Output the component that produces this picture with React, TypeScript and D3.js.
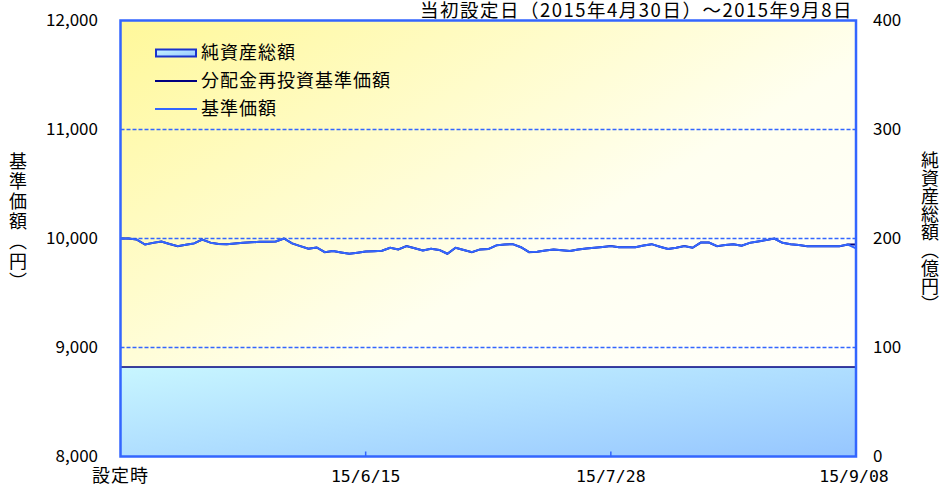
import React, { useEffect, useRef } from 'react';
import * as d3 from 'd3';

// 基準価額 (円), one value per business day from 設定時 to 15/9/08
const navValues = [
  10000, 10000, 9990, 9945, 9960, 9972, 9950, 9930, 9942, 9955,
  9990, 9962, 9950, 9948, 9955, 9960, 9965, 9970, 9970, 9972,
  10000, 9955, 9930, 9906, 9918, 9875, 9885, 9872, 9860, 9870,
  9880, 9884, 9888, 9915, 9900, 9930, 9910, 9890, 9905, 9895,
  9860, 9915, 9895, 9875, 9900, 9903, 9937, 9945, 9948, 9920,
  9875, 9878, 9890, 9900, 9892, 9885, 9900, 9908, 9915, 9922,
  9930, 9920, 9920, 9920, 9935, 9948, 9925, 9903, 9915, 9930,
  9915, 9963, 9963, 9930, 9940, 9948, 9933, 9960, 9972, 9985,
  10000, 9960, 9948, 9940, 9930, 9930, 9930, 9930, 9930, 9945,
  9910,
];

// 分配金再投資基準価額 (no distributions, so same as NAV)
const reinvestValues = [
  10000, 10000, 9990, 9945, 9960, 9972, 9950, 9930, 9942, 9955,
  9990, 9962, 9950, 9948, 9955, 9960, 9965, 9970, 9970, 9972,
  10000, 9955, 9930, 9906, 9918, 9875, 9885, 9872, 9860, 9870,
  9880, 9884, 9888, 9915, 9900, 9930, 9910, 9890, 9905, 9895,
  9860, 9915, 9895, 9875, 9900, 9903, 9937, 9945, 9948, 9920,
  9875, 9878, 9890, 9900, 9892, 9885, 9900, 9908, 9915, 9922,
  9930, 9920, 9920, 9920, 9935, 9948, 9925, 9903, 9915, 9930,
  9915, 9963, 9963, 9930, 9940, 9948, 9933, 9960, 9972, 9985,
  10000, 9960, 9948, 9940, 9930, 9930, 9930, 9930, 9930, 9945,
  9945,
];

// 純資産総額 (億円)
const netAssets = [
  82, 82, 82, 82, 82, 82, 82, 82, 82, 82,
  82, 82, 82, 82, 82, 82, 82, 82, 82, 82,
  82, 82, 82, 82, 82, 82, 82, 82, 82, 82,
  82, 82, 82, 82, 82, 82, 82, 82, 82, 82,
  82, 82, 82, 82, 82, 82, 82, 82, 82, 82,
  82, 82, 82, 82, 82, 82, 82, 82, 82, 82,
  82, 82, 82, 82, 82, 82, 82, 82, 82, 82,
  82, 82, 82, 82, 82, 82, 82, 82, 82, 82,
  82, 82, 82, 82, 82, 82, 82, 82, 82, 82,
  82,
];

const xTickIndex = [0, 30, 60, 90];
const xTickLabels = ['設定時', '15/6/15', '15/7/28', '15/9/08'];
const leftTicks = [8000, 9000, 10000, 11000, 12000];
const rightTicks = [0, 100, 200, 300, 400];
const legendLabels = ['純資産総額', '分配金再投資基準価額', '基準価額'];
const title = '当初設定日（2015年4月30日）～2015年9月8日';

const W = 943;
const H = 489;
const M = { left: 120.5, right: 856, top: 20.5, bottom: 456.5 };
const BLUE = '#3366ff';
const NAVY = '#000080';
const JP = '"Noto Sans CJK JP", "Noto Sans", sans-serif';

export default function App() {
  const svgRef = useRef<SVGSVGElement>(null);

  useEffect(() => {
    if (!svgRef.current) return;
    const svg = d3.select(svgRef.current);
    svg.selectAll('*').remove();

    const x = d3.scaleLinear().domain([0, navValues.length - 1]).range([M.left, M.right]);
    const yL = d3.scaleLinear().domain([8000, 12000]).range([M.bottom, M.top]);
    const yR = d3.scaleLinear().domain([0, 400]).range([M.bottom, M.top]);

    const defs = svg.append('defs');
    const bg = defs.append('linearGradient').attr('id', 'bg')
      .attr('x1', 0).attr('y1', 0).attr('x2', 1).attr('y2', 1);
    bg.append('stop').attr('offset', '0%').attr('stop-color', '#fff89a');
    bg.append('stop').attr('offset', '55%').attr('stop-color', '#fffff0');
    bg.append('stop').attr('offset', '100%').attr('stop-color', '#ffffff');

    const ag = defs.append('linearGradient').attr('id', 'area')
      .attr('x1', 0).attr('y1', 0).attr('x2', 1).attr('y2', 1);
    ag.append('stop').attr('offset', '0%').attr('stop-color', '#c8f6ff');
    ag.append('stop').attr('offset', '100%').attr('stop-color', '#96c6ff');

    // plot background
    svg.append('rect')
      .attr('x', M.left).attr('y', M.top)
      .attr('width', M.right - M.left).attr('height', M.bottom - M.top)
      .attr('fill', 'url(#bg)');

    // net assets area
    const area = d3.area<number>()
      .x((_, i) => x(i))
      .y0(yR(0))
      .y1(d => yR(d));
    svg.append('path').datum(netAssets)
      .attr('d', area)
      .attr('fill', 'url(#area)');
    svg.append('path').datum(netAssets)
      .attr('d', d3.line<number>().x((_, i) => x(i)).y(d => yR(d)))
      .attr('fill', 'none').attr('stroke', NAVY).attr('stroke-width', 1.5);

    // gridlines
    svg.append('g').selectAll('line')
      .data(leftTicks.slice(1, -1))
      .join('line')
      .attr('x1', M.left).attr('x2', M.right)
      .attr('y1', d => yL(d)).attr('y2', d => yL(d))
      .attr('stroke', BLUE).attr('stroke-width', 1.5)
      .attr('stroke-dasharray', '4,2');

    // lines
    const line = d3.line<number>().x((_, i) => x(i)).y(d => yL(d));
    svg.append('path').datum(reinvestValues)
      .attr('d', line).attr('fill', 'none')
      .attr('stroke', NAVY).attr('stroke-width', 2);
    svg.append('path').datum(navValues)
      .attr('d', line).attr('fill', 'none')
      .attr('stroke', BLUE).attr('stroke-width', 2).attr('stroke-linejoin', 'round');

    // frame
    svg.append('rect')
      .attr('x', M.left).attr('y', M.top)
      .attr('width', M.right - M.left).attr('height', M.bottom - M.top)
      .attr('fill', 'none').attr('stroke', BLUE).attr('stroke-width', 2.5);

    // bottom ticks
    svg.append('g').selectAll('line')
      .data(xTickIndex.slice(1, -1))
      .join('line')
      .attr('x1', d => x(d)).attr('x2', d => x(d))
      .attr('y1', M.bottom).attr('y2', M.bottom - 5)
      .attr('stroke', BLUE).attr('stroke-width', 1.5);

    // left tick labels
    svg.append('g').selectAll('text')
      .data(leftTicks)
      .join('text')
      .attr('x', 98).attr('y', d => yL(d))
      .attr('dy', '0.35em')
      .attr('text-anchor', 'end')
      .attr('font-family', JP).attr('font-size', 17)
      .text(d => d3.format(',')(d));

    // right tick labels
    svg.append('g').selectAll('text')
      .data(rightTicks)
      .join('text')
      .attr('x', 873).attr('y', d => yR(d))
      .attr('dy', '0.35em')
      .attr('font-family', JP).attr('font-size', 17)
      .text(d => String(d));

    // bottom labels
    svg.append('g').selectAll('text')
      .data(xTickIndex)
      .join('text')
      .attr('x', (d, i) => (i === xTickIndex.length - 1 ? x(d) - 2 : x(d)))
      .attr('y', 482)
      .attr('text-anchor', 'middle')
      .attr('font-family', (_, i) => (i === 0 ? JP : '"DejaVu Sans Mono", monospace'))
      .attr('font-size', (_, i) => (i === 0 ? 18 : 16.5))
      .attr('letter-spacing', (_, i) => (i === 0 ? 1 : 0))
      .text((_, i) => xTickLabels[i]);

    // axis titles (vertical)
    svg.append('text')
      .attr('x', 18).attr('y', 222)
      .attr('text-anchor', 'middle')
      .style('writing-mode', 'vertical-rl')
      .attr('font-family', JP).attr('font-size', 18)
      .attr('letter-spacing', 2)
      .text('基準価額（円）');
    svg.append('text')
      .attr('x', 930).attr('y', 232)
      .attr('text-anchor', 'middle')
      .style('writing-mode', 'vertical-rl')
      .attr('font-family', JP).attr('font-size', 18)
      .attr('letter-spacing', 0)
      .text('純資産総額（億円）');

    // title (sits at the very top, as in the original)
    svg.append('text')
      .attr('x', 853).attr('y', 17)
      .attr('text-anchor', 'end')
      .attr('font-family', JP).attr('font-size', 18.5)
      .attr('letter-spacing', 1.5)
      .text(title);

    // legend
    const lg = svg.append('g');
    const rowY = [53, 81, 109];
    lg.append('rect')
      .attr('x', 156).attr('y', rowY[0] - 3.5).attr('width', 40).attr('height', 7)
      .attr('fill', 'url(#area)').attr('stroke', '#1a33cc').attr('stroke-width', 2);
    lg.append('line')
      .attr('x1', 155).attr('x2', 197).attr('y1', rowY[1]).attr('y2', rowY[1])
      .attr('stroke', NAVY).attr('stroke-width', 2);
    lg.append('line')
      .attr('x1', 155).attr('x2', 197).attr('y1', rowY[2]).attr('y2', rowY[2])
      .attr('stroke', BLUE).attr('stroke-width', 2);
    lg.selectAll('text')
      .data(legendLabels)
      .join('text')
      .attr('x', 201).attr('y', (_, i) => rowY[i])
      .attr('dy', '0.35em')
      .attr('font-family', JP).attr('font-size', 18)
      .attr('letter-spacing', 1)
      .text(d => d);
  }, []);

  return (
    <svg
      ref={svgRef}
      width={W}
      height={H}
      style={{ position: 'absolute', left: 0, top: 0, display: 'block', background: '#fff' }}
    />
  );
}
